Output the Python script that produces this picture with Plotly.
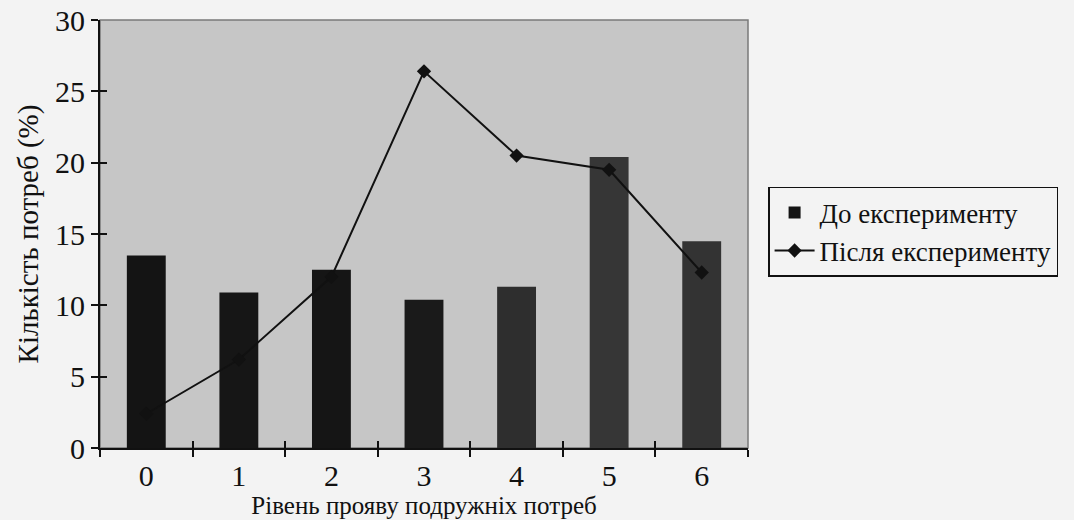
import plotly.graph_objects as go

# Levels of marital-needs expression and shares of needs (%)
levels = ["0", "1", "2", "3", "4", "5", "6"]
before = [13.5, 10.9, 12.5, 10.4, 11.3, 20.4, 14.5]
after = [2.4, 6.2, 12.0, 26.4, 20.5, 19.5, 12.3]

bar_colors = ["#141414", "#161616", "#151515", "#1a1a1a", "#2e2e2e", "#363636", "#333333"]

SERIF = "Liberation Serif"

fig = go.Figure()
fig.add_trace(go.Bar(
    x=levels, y=before, name="До експерименту",
    marker=dict(color=bar_colors, line=dict(width=0)),
    width=0.42,
))
fig.add_trace(go.Scatter(
    x=levels, y=after, name="Після експерименту",
    mode="lines+markers",
    line=dict(color="#111111", width=2),
    marker=dict(symbol="diamond", size=11, color="#111111"),
))
# invisible companion trace so the overlay axes (inner tick halves) are drawn
fig.add_trace(go.Scatter(
    x=levels, y=before, xaxis="x2", yaxis="y2",
    mode="markers", marker=dict(opacity=0), showlegend=False, hoverinfo="skip",
))

axis_font = dict(family=SERIF, size=30, color="#111111")

fig.update_layout(
    width=1074, height=520,
    margin=dict(l=100, r=326, t=20, b=72, autoexpand=False),
    paper_bgcolor="#f3f3f3",
    plot_bgcolor="#c6c6c6",
    font=dict(family=SERIF, size=25, color="#111111"),
    xaxis=dict(
        type="category", tickson="boundaries", automargin=False,
        ticks="outside", ticklen=7, tickwidth=1.5, tickcolor="#111111",
        showline=True, linecolor="#111111", linewidth=2,
        showgrid=False, zeroline=False,
        tickfont=axis_font,
        title=dict(text="Рівень прояву подружніх потреб", font=dict(family=SERIF, size=25), standoff=2),
        range=[-0.5, 6.5],
    ),
    yaxis=dict(
        range=[0, 30], tickvals=[0, 5, 10, 15, 20, 25, 30], automargin=False,
        ticks="outside", ticklen=7, tickwidth=1.5, tickcolor="#111111",
        showline=True, linecolor="#111111", linewidth=2,
        showgrid=False, zeroline=False,
        tickfont=axis_font,
        title=dict(text="Кількість потреб (%)", font=dict(family=SERIF, size=29), standoff=8),
    ),
    xaxis2=dict(
        type="category", overlaying="x", matches="x", tickson="boundaries",
        ticks="inside", ticklen=7, tickwidth=1.5, tickcolor="#111111",
        showticklabels=False, showline=False, showgrid=False, zeroline=False,
        side="bottom",
    ),
    yaxis2=dict(
        overlaying="y", matches="y", tickvals=[0, 5, 10, 15, 20, 25, 30],
        ticks="inside", ticklen=7, tickwidth=1.5, tickcolor="#111111",
        showticklabels=False, showline=False, showgrid=False, zeroline=False,
        side="left",
    ),
    legend=dict(
        x=1.031, y=0.505, xanchor="left", yanchor="middle",
        bgcolor="#f3f3f3", bordercolor="#111111", borderwidth=1.5,
        font=dict(family=SERIF, size=27, color="#111111"),
        tracegroupgap=0, itemwidth=40,
    ),
    shapes=[dict(
        type="rect", xref="paper", yref="paper", x0=0, x1=1, y0=0, y1=1,
        line=dict(color="#7a7a7a", width=1.5), layer="below",
    )],
    showlegend=True,
)

fig.write_html("out.html")
